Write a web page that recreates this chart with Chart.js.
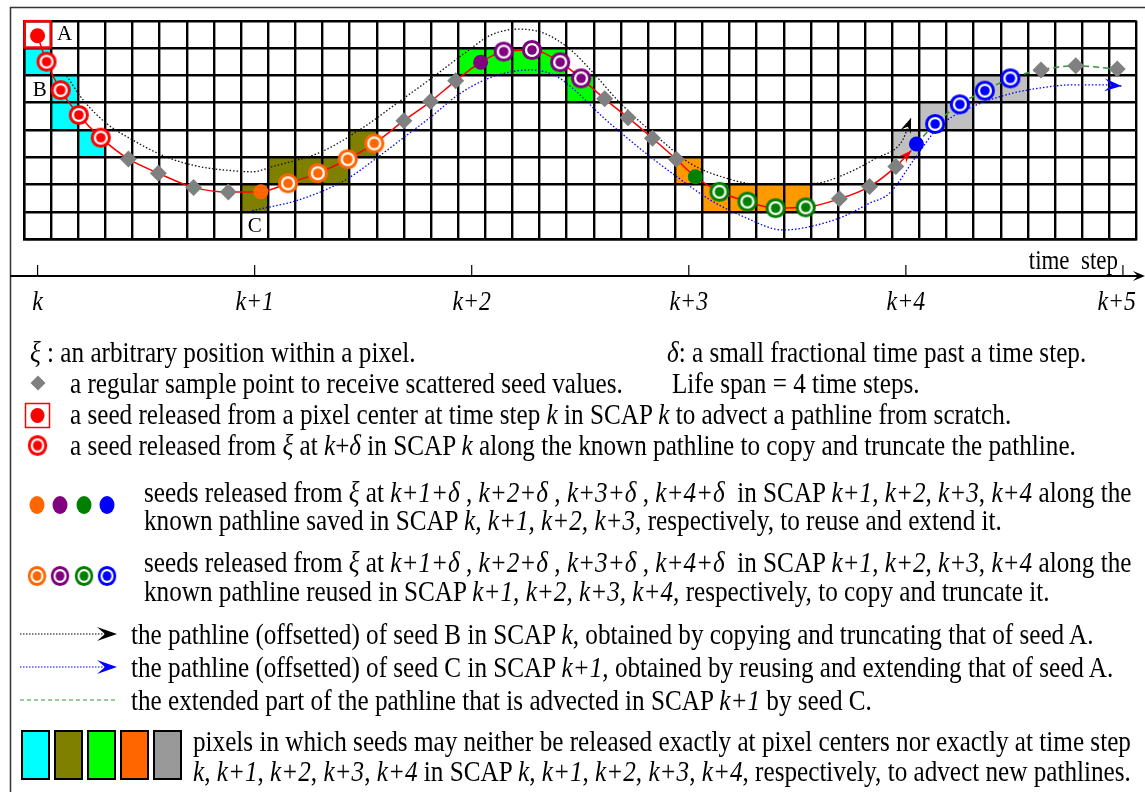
<!DOCTYPE html>
<html>
<head>
<meta charset="utf-8">
<script src="https://cdn.jsdelivr.net/npm/chart.js@4.4.1/dist/chart.umd.min.js"></script>
<style>
html, body { margin: 0; padding: 0; background: #fff; }
#wrap { position: relative; width: 1145px; height: 792px; overflow: hidden; }
#c { position: absolute; left: 0; top: 0; }
.t { position: absolute; white-space: nowrap; line-height: 30px; color: #000; transform-origin: 0 50%;
     font-family: "Liberation Serif", "Times New Roman", serif; font-size: 29px; }
</style>
</head>
<body>
<div id="wrap"><canvas id="c" width="1145" height="792"></canvas></div>
<script>
// grid: 41 pixels wide, 8 high, 8 pixels per time step
const gridCols = 41;
const gridRows = 8;
const stepCols = 8;
const timeLabels = ['k', 'k+1', 'k+2', 'k+3', 'k+4', 'k+5'];

// pixels (col, row from top) for SCAP k .. k+4
const cellsK  = [[0, 1], [1, 2], [1, 3], [2, 4]];
const cellsK1 = [[8, 6], [9, 5], [10, 5], [11, 5], [12, 4]];
const cellsK2 = [[16, 1], [17, 1], [18, 1], [19, 1], [20, 2]];
const cellsK3 = [[24, 5], [25, 6], [26, 6], [27, 6], [28, 6]];
const cellsK4 = [[32, 4], [33, 3], [34, 3], [35, 2], [36, 2]];

// seeds (x, y in pixel units)
const seedA   = [[0.5, 0.55]];
const ringsK  = [[0.83, 1.50], [1.35, 2.54], [2.02, 3.45], [2.83, 4.28]];
const seedK1  = [[8.73, 6.26]];
const ringsK1 = [[9.73, 5.95], [10.83, 5.58], [11.93, 5.07], [12.91, 4.49]];
const seedK2  = [[16.83, 1.52]];
const ringsK2 = [[17.68, 1.13], [18.72, 1.07], [19.76, 1.52], [20.53, 2.11]];
const seedK3  = [[24.74, 5.71]];
const ringsK3 = [[25.63, 6.26], [26.66, 6.62], [27.70, 6.86], [28.81, 6.83]];
const seedK4  = [[32.89, 4.51]];
const ringsK4 = [[33.58, 3.78], [34.49, 3.06], [35.41, 2.56], [36.35, 2.11]];

// regular sample points
const samples = [[3.85, 5.06], [4.95, 5.58], [6.25, 6.10], [7.53, 6.27],
  [14.0, 3.66], [14.98, 2.96], [15.91, 2.20],
  [21.40, 2.86], [22.26, 3.55], [23.16, 4.30], [24.04, 5.07],
  [30.05, 6.52], [31.16, 6.07], [32.13, 5.34],
  [37.48, 1.80], [38.76, 1.65], [40.29, 1.77]];

const redEnd = [32.7, 4.75];

// offset pathline of seed B (black) and seed C (blue)
const pathB = [[1.57, 2.02], [2.18, 2.90], [3.03, 3.75], [4.01, 4.37], [5.23, 4.98], [6.46, 5.34],
  [7.68, 5.49], [8.41, 5.53], [9.15, 5.34], [10.98, 4.79], [12.45, 3.94], [13.91, 2.90],
  [15.01, 2.11], [16.24, 1.19], [17.22, 0.52], [18.20, 0.31], [19.17, 0.46], [20.15, 1.07],
  [20.88, 1.80], [21.98, 3.02], [23.33, 4.24], [24.55, 5.22], [25.90, 5.77], [27.0, 5.98],
  [27.98, 5.98], [29.2, 5.95], [30.18, 5.65], [31.40, 5.03], [32.38, 4.37], [32.69, 3.56]];
const pathC = [[8.41, 6.95], [10.12, 6.56], [11.84, 5.83], [13.06, 4.98], [14.04, 4.24],
  [15.01, 3.51], [15.99, 2.72], [16.97, 2.17], [17.95, 1.87], [18.68, 1.80], [19.54, 1.99],
  [20.15, 2.41], [21.38, 3.57], [22.84, 4.79], [24.06, 5.71], [25.29, 6.56], [26.51, 7.17],
  [27.98, 7.66], [28.95, 7.54], [30.18, 7.17], [31.16, 6.68], [31.89, 6.32], [32.87, 4.98],
  [33.72, 3.88], [34.95, 3.15], [36.17, 2.72], [37.39, 2.47], [38.62, 2.35], [39.84, 2.35],
  [40.45, 2.39]];

const cellGroups = [cellsK, cellsK1, cellsK2, cellsK3, cellsK4];
const cellColors = ['#00ffff', '#808000', '#00ff00', '#ff9900', '#c0c0c0'];
const seedColors = ['#ff6600', '#800080', '#008000', '#0000ff'];

const xy = arr => arr.map(p => ({x: p[0], y: p[1]}));
const blueX = seedK4[0][0];
const redPath = [].concat(seedA, ringsK, seedK1, ringsK1, seedK2, ringsK2, seedK3, ringsK3,
  samples.filter(p => p[0] < blueX), [redEnd]).sort((a, b) => a[0] - b[0]);
const greenPath = [].concat(seedK4, ringsK4, samples.filter(p => p[0] > blueX));

const serif = '"Liberation Serif", "Times New Roman", serif';

function ringImage(color) {
  const c = document.createElement('canvas');
  c.width = 24; c.height = 24;
  const g = c.getContext('2d');
  g.beginPath(); g.arc(12, 12, 8.6, 0, Math.PI * 2);
  g.fillStyle = '#fff'; g.fill();
  g.lineWidth = 3; g.strokeStyle = color; g.stroke();
  g.beginPath(); g.arc(12, 12, 4.8, 0, Math.PI * 2);
  g.fillStyle = color; g.fill();
  return c;
}

function arrowHead(ctx, x, y, ang, color, len, half) {
  ctx.save();
  ctx.translate(x, y); ctx.rotate(ang);
  ctx.beginPath();
  ctx.moveTo(0, 0); ctx.lineTo(-len, -half); ctx.lineTo(-len * 0.6, 0); ctx.lineTo(-len, half);
  ctx.closePath();
  ctx.fillStyle = color; ctx.fill();
  ctx.restore();
}

// text squeezed sideways like the figure's lettering
function squeezed(ctx, text, x, y, align, k) {
  const w = ctx.measureText(text).width * k;
  const left = align === 'right' ? x - w : align === 'center' ? x - w / 2 : x;
  ctx.save();
  ctx.translate(left, y); ctx.scale(k, 1);
  ctx.textAlign = 'left';
  ctx.fillText(text, 0, 0);
  ctx.restore();
  return w;
}

const gridPlugin = {
  id: 'cells',
  beforeDraw(chart) {
    const {ctx, scales: {x, y}} = chart;
    ctx.save();
    cellGroups.forEach((cells, i) => {
      ctx.fillStyle = cellColors[i];
      cells.forEach(([c, r]) => {
        const x0 = x.getPixelForValue(c), x1 = x.getPixelForValue(c + 1);
        const y0 = y.getPixelForValue(r), y1 = y.getPixelForValue(r + 1);
        ctx.fillRect(x0, y0, x1 - x0, y1 - y0);
      });
    });
    ctx.restore();
  },
  beforeDatasetsDraw(chart) {
    const {ctx, scales: {x, y}} = chart;
    ctx.save();
    // box round seed A
    ctx.strokeStyle = '#ff0000'; ctx.lineWidth = 2.5;
    const x0 = x.getPixelForValue(0), x1 = x.getPixelForValue(1);
    const y0 = y.getPixelForValue(0), y1 = y.getPixelForValue(1);
    ctx.strokeRect(x0 + 0.5, y0 + 0.5, x1 - x0 - 1, y1 - y0 - 1);
    ctx.fillStyle = '#000';
    ctx.font = '21px ' + serif;
    ctx.textAlign = 'center'; ctx.textBaseline = 'middle';
    ctx.fillText('A', x.getPixelForValue(1.5), y.getPixelForValue(0.52));
    ctx.fillText('B', x.getPixelForValue(0.58), y.getPixelForValue(2.55));
    ctx.fillText('C', x.getPixelForValue(8.5), y.getPixelForValue(7.52));
    ctx.restore();
  },
  afterDatasetDraw(chart, args) {
    const ds = chart.data.datasets[args.index];
    if (!ds.arrow) return;
    const pts = args.meta.data;
    const last = pts[pts.length - 1], prev = pts[pts.length - 2];
    let dx = last.x - prev.x, dy = last.y - prev.y;
    if (last.cp1x !== undefined && Math.hypot(last.x - last.cp1x, last.y - last.cp1y) > 1) {
      dx = last.x - last.cp1x; dy = last.y - last.cp1y;
    }
    arrowHead(chart.ctx, last.x, last.y, Math.atan2(dy, dx), ds.arrow, ds.arrowLen, ds.arrowLen * 0.38);
  },
  afterDraw(chart) {
    const {ctx, scales: {x}} = chart;
    ctx.save();
    // outer frame
    ctx.strokeStyle = '#333'; ctx.lineWidth = 1.5;
    ctx.strokeRect(10.5, 7.5, 1140, 800);
    // time axis
    const ay = 276;
    ctx.strokeStyle = '#000'; ctx.lineWidth = 2;
    ctx.beginPath(); ctx.moveTo(10, ay); ctx.lineTo(1138, ay); ctx.stroke();
    arrowHead(ctx, 1145, ay, 0, '#000', 12, 5);
    ctx.lineWidth = 1.2;
    ctx.font = 'italic 28px ' + serif;
    ctx.fillStyle = '#000'; ctx.textBaseline = 'middle';
    timeLabels.forEach((lab, i) => {
      const px = x.getPixelForValue(0.5 + i * stepCols);
      ctx.beginPath(); ctx.moveTo(px, ay - 11); ctx.lineTo(px, ay); ctx.stroke();
      const w = ctx.measureText(lab).width * 0.85;
      const lx = Math.min(px - w / 2, 1136 - w);
      squeezed(ctx, lab, lx, 303, 'left', 0.85);
    });
    ctx.font = '27px ' + serif;
    squeezed(ctx, 'time  step', 1118, 262, 'right', 0.85);

    // legend glyphs
    const dia = (cx, cy, r, col) => {
      ctx.beginPath(); ctx.moveTo(cx, cy - r); ctx.lineTo(cx + r, cy); ctx.lineTo(cx, cy + r); ctx.lineTo(cx - r, cy);
      ctx.closePath(); ctx.fillStyle = col; ctx.fill();
    };
    const dot = (cx, cy, rx, ry, col) => {
      ctx.beginPath(); ctx.ellipse(cx, cy, rx, ry, 0, 0, Math.PI * 2); ctx.fillStyle = col; ctx.fill();
    };
    dia(38, 383, 7.5, '#808080');
    ctx.strokeStyle = '#ff0000'; ctx.lineWidth = 1.5;
    ctx.strokeRect(25.5, 403.5, 24, 24);
    dot(37.5, 415.5, 7, 7.5, '#ff0000');
    ctx.drawImage(ringImage('#ff0000'), 26, 433, 23, 25);
    const lx = [37, 60, 84, 107];
    seedColors.forEach((col, i) => {
      dot(lx[i], 505, 7.5, 9, col);
      ctx.drawImage(ringImage(col), lx[i] - 11, 564, 22, 24);
    });
    ctx.lineWidth = 1.2;
    ctx.setLineDash([1.5, 1.5]);
    ctx.strokeStyle = '#000';
    ctx.beginPath(); ctx.moveTo(20, 634); ctx.lineTo(105, 634); ctx.stroke();
    ctx.strokeStyle = '#0000ff';
    ctx.beginPath(); ctx.moveTo(20, 667); ctx.lineTo(105, 667); ctx.stroke();
    ctx.setLineDash([4, 3]);
    ctx.strokeStyle = '#339933';
    ctx.beginPath(); ctx.moveTo(20, 700); ctx.lineTo(118, 700); ctx.stroke();
    ctx.setLineDash([]);
    arrowHead(ctx, 117, 634, 0, '#000', 20, 7);
    arrowHead(ctx, 117, 667, 0, '#0000ff', 20, 7);
    const boxCols = ['#00ffff', '#808000', '#00ff00', '#ff6600', '#999999'];
    boxCols.forEach((col, i) => {
      const bx = 22 + i * 33;
      ctx.fillStyle = col; ctx.fillRect(bx, 731, 27, 48);
      ctx.strokeStyle = '#000'; ctx.lineWidth = 2; ctx.strokeRect(bx, 731, 27, 48);
    });
    ctx.restore();
  }
};

const lineBase = {showLine: true, pointRadius: 0, cubicInterpolationMode: 'monotone', clip: false};

new Chart(document.getElementById('c'), {
  type: 'scatter',
  data: {
    datasets: [
      Object.assign({data: xy(pathB), borderColor: '#111', borderWidth: 1.3, borderDash: [1.5, 2],
        arrow: '#000', arrowLen: 15, order: 10}, lineBase),
      Object.assign({data: xy(pathC), borderColor: '#0000ff', borderWidth: 1.3, borderDash: [1.5, 2],
        arrow: '#0000ff', arrowLen: 17, order: 9}, lineBase),
      Object.assign({data: xy(redPath), borderColor: '#ff0000', borderWidth: 1.5,
        arrow: '#ff0000', arrowLen: 13, order: 8}, lineBase),
      Object.assign({data: xy(greenPath), borderColor: '#339933', borderWidth: 1.6, borderDash: [6, 4],
        order: 7}, lineBase),
      {data: xy(samples), pointStyle: 'rectRot', pointRadius: 8.5, backgroundColor: '#808080',
        borderWidth: 0, clip: false, order: 6},
      {data: xy(seedA), pointRadius: 7.5, backgroundColor: '#ff0000', borderWidth: 0, clip: false, order: 5},
      {data: xy(seedK1), pointRadius: 7.5, backgroundColor: seedColors[0], borderWidth: 0, clip: false, order: 5},
      {data: xy(seedK2), pointRadius: 7.5, backgroundColor: seedColors[1], borderWidth: 0, clip: false, order: 5},
      {data: xy(seedK3), pointRadius: 7.5, backgroundColor: seedColors[2], borderWidth: 0, clip: false, order: 5},
      {data: xy(seedK4), pointRadius: 7.5, backgroundColor: seedColors[3], borderWidth: 0, clip: false, order: 5},
      {data: xy(ringsK), pointStyle: ringImage('#ff0000'), clip: false, order: 4},
      {data: xy(ringsK1), pointStyle: ringImage(seedColors[0]), clip: false, order: 4},
      {data: xy(ringsK2), pointStyle: ringImage(seedColors[1]), clip: false, order: 4},
      {data: xy(ringsK3), pointStyle: ringImage(seedColors[2]), clip: false, order: 4},
      {data: xy(ringsK4), pointStyle: ringImage(seedColors[3]), clip: false, order: 4}
    ]
  },
  options: {
    responsive: false,
    animation: false,
    events: [],
    layout: {padding: {left: 24, top: 20.7, right: 3.3, bottom: 552.7}},
    plugins: {legend: {display: false}, tooltip: {enabled: false}},
    scales: {
      x: {
        type: 'linear', min: 0, max: gridCols,
        ticks: {display: false, stepSize: 1, maxTicksLimit: 100, autoSkip: false},
        grid: {color: '#000', lineWidth: 2.4, drawTicks: false},
        border: {color: '#000', width: 2.4}
      },
      y: {
        type: 'linear', min: 0, max: gridRows, reverse: true,
        ticks: {display: false, stepSize: 1, maxTicksLimit: 100, autoSkip: false},
        grid: {color: '#000', lineWidth: 2.4, drawTicks: false},
        border: {color: '#000', width: 2.4}
      }
    }
  },
  plugins: [gridPlugin]
});

// legend text: left x, centre y, right x where it is known
const textLines = [
  [30, 352, 0, '<i>ξ</i> : an arbitrary position within a pixel.'],
  [667, 352, 1090, '<i>δ</i>: a small fractional time past a time step.'],
  [70, 383, 0, 'a regular sample point to receive scattered seed values.'],
  [672, 383, 0, 'Life span = 4 time steps.'],
  [70, 414, 0, 'a seed released from a pixel center at time step <i>k</i> in SCAP <i>k</i> to advect a pathline from scratch.'],
  [70, 445, 0, 'a seed released from <i>ξ</i> at <i>k</i>+<i>δ</i> in SCAP <i>k</i> along the known pathline to copy and truncate the pathline.'],
  [144, 492, 1128, 'seeds released from <i>ξ</i> at <i>k+1+δ</i> , <i>k+2+δ</i> , <i>k+3+δ</i> , <i>k+4+δ</i> &nbsp;in SCAP <i>k+1</i>, <i>k+2</i>, <i>k+3</i>, <i>k+4</i> along the'],
  [144, 520, 0, 'known pathline saved in SCAP <i>k, k+1, k+2, k+3,</i> respectively, to reuse and extend it.'],
  [144, 562, 1128, 'seeds released from <i>ξ</i> at <i>k+1+δ</i> , <i>k+2+δ</i> , <i>k+3+δ</i> , <i>k+4+δ</i> &nbsp;in SCAP <i>k+1</i>, <i>k+2</i>, <i>k+3</i>, <i>k+4</i> along the'],
  [144, 591, 0, 'known pathline reused in SCAP <i>k+1, k+2, k+3, k+4,</i> respectively, to copy and truncate it.'],
  [131, 634, 0, 'the pathline (offsetted) of seed B in SCAP <i>k</i>, obtained by copying and truncating that of seed A.'],
  [131, 667, 0, 'the pathline (offsetted) of seed C in SCAP <i>k+1</i>, obtained by reusing and extending that of seed A.'],
  [131, 700, 0, 'the extended part of the pathline that is advected in SCAP <i>k+1</i> by seed C.'],
  [193, 741, 1130, 'pixels in which seeds may neither be released exactly at pixel centers nor exactly at time step'],
  [193, 771, 1130, '<i>k</i>, <i>k+1</i>, <i>k+2</i>, <i>k+3</i>, <i>k+4</i> in SCAP <i>k</i>, <i>k+1</i>, <i>k+2</i>, <i>k+3</i>, <i>k+4</i>, respectively, to advect new pathlines.']
];
const wrap = document.getElementById('wrap');
const divs = textLines.map(([x0, cy, x1, html]) => {
  const d = document.createElement('div');
  d.className = 't';
  d.innerHTML = html;
  d.style.left = x0 + 'px';
  d.style.top = (cy - 15) + 'px';
  wrap.appendChild(d);
  return d;
});
// one horizontal scale for every line, taken from the lines whose ends are known
const fits = [];
textLines.forEach(([x0, cy, x1], i) => {
  if (x1) fits.push((x1 - x0) / divs[i].getBoundingClientRect().width);
});
const sx = fits.reduce((a, b) => a + b, 0) / fits.length;
divs.forEach(d => { d.style.transform = 'scaleX(' + sx.toFixed(4) + ')'; });
</script>
</body>
</html>
